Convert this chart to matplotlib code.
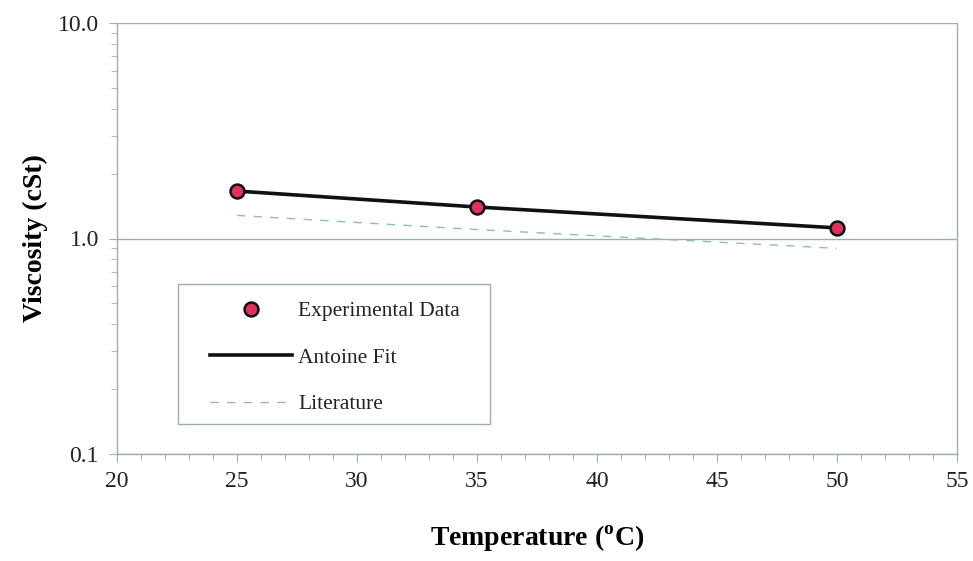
import matplotlib.pyplot as plt
from matplotlib.patches import Rectangle
from matplotlib.ticker import MultipleLocator, LogLocator, FixedLocator, NullFormatter

# donnees
temp_exp = [25, 35, 50]
visc_exp = [1.66, 1.40, 1.12]
temp_fit = [25, 35, 50]
visc_fit = [1.66, 1.40, 1.12]
temp_lit = [25, 35, 50]
visc_lit = [1.28, 1.10, 0.90]

plt.rcParams['font.family'] = ['Liberation Serif', 'DejaVu Serif']
axis_col = '#9aafaf'

fig = plt.figure(figsize=(9.73, 5.61), dpi=100)
ax = fig.add_axes([117/973, 107/561, 840/973, 431/561])

ax.plot(temp_lit, visc_lit, linestyle=(0, (6, 6)), color='#8cbccc', lw=1.0, label="Literature", zorder=2)
ax.plot(temp_fit, visc_fit, color='#111111', lw=2.6, label="Antoine Fit", zorder=3)
ax.plot(temp_exp, visc_exp, 'o', markersize=10, markerfacecolor='#e2305c',
        markeredgecolor='#111111', markeredgewidth=1.8, label="Experimental Data", zorder=4)

ax.set_yscale('log')
ax.set_xlim(20, 55)
ax.set_ylim(0.1, 10)
ax.xaxis.set_major_locator(MultipleLocator(5))
ax.xaxis.set_minor_locator(MultipleLocator(1))
ax.yaxis.set_major_locator(FixedLocator([0.1, 1, 10]))
ax.yaxis.set_minor_locator(LogLocator(base=10, subs=range(2, 10)))
ax.yaxis.set_minor_formatter(NullFormatter())
ax.set_yticklabels(["0.1", "1.0", "10.0"])

# gridlines horizontales
ax.grid(True, axis='y', which='major', color=axis_col, lw=1.0)
ax.set_axisbelow(True)

for s in ['left', 'bottom', 'right']:
    ax.spines[s].set_color(axis_col)
    ax.spines[s].set_linewidth(1.0)
ax.spines['top'].set_visible(False)

ax.tick_params(axis='both', which='major', direction='out', length=6, color=axis_col,
               labelsize=17, labelcolor='#222222', pad=7)
ax.tick_params(axis='x', which='major', pad=6)
ax.tick_params(axis='both', which='minor', direction='out', length=4, color=axis_col)

ax.set_xlabel("Temperature ($^{\\mathregular{o}}$C)", fontsize=20, fontweight='bold', labelpad=23)
ax.set_ylabel("Viscosity (cSt)", fontsize=20, fontweight='bold', labelpad=7)

# cadre de la legende
ax.add_patch(Rectangle((61/840, 30/431), 312/840, 140/431, transform=ax.transAxes,
                       facecolor='white', edgecolor=axis_col, lw=1.0, zorder=5))

h, l = ax.get_legend_handles_labels()
order = [2, 1, 0]
leg = ax.legend([h[i] for i in order], [l[i] for i in order], loc='upper left',
                bbox_to_anchor=(93/840, 153/431), borderaxespad=0, borderpad=0, fontsize=15.5,
                handlelength=3.8, handletextpad=0.3, labelspacing=1.23, frameon=False)
leg.set_zorder(6)
for t in leg.get_texts():
    t.set_color('#222222')

plt.savefig('out.png')
plt.close()
